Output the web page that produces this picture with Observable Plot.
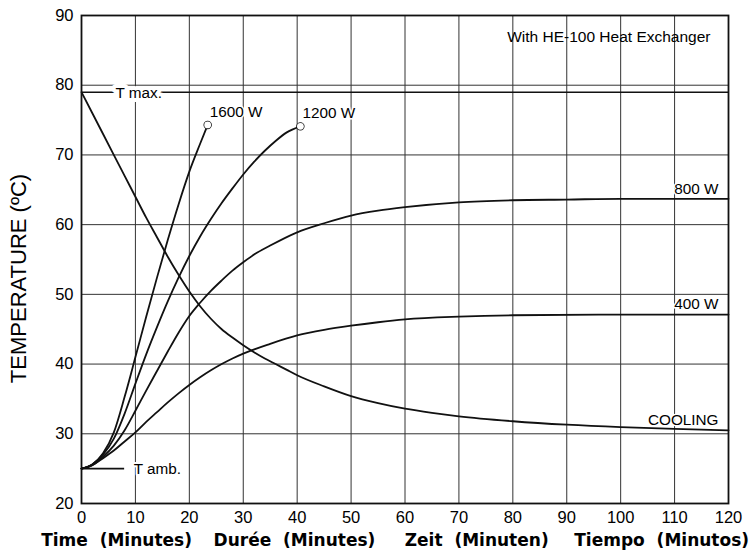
<!DOCTYPE html>
<html><head><meta charset="utf-8">
<script src="https://cdn.jsdelivr.net/npm/d3@7"></script>
<script src="https://cdn.jsdelivr.net/npm/@observablehq/plot@0.6"></script>
<style>
body{margin:0;background:#fff;}
#chart svg{display:block;paint-order:stroke;}
#chart svg text{paint-order:stroke;}
</style>
</head><body><div id="chart"></div>
<script>
// ---- data ----
const xTicks = [0,10,20,30,40,50,60,70,80,90,100,110,120];
const yTicks = [20,30,40,50,60,70,80,90];
const tMax = 79;
const tAmb = 25;

const t1600 = [0,2,4,6,8,10,12,14,16,18,20,22,23.4];
const v1600 = [25,25.6,27.2,30.2,35.3,41,46.8,52.4,57.8,62.9,67.6,71.6,74.3];

const t1200 = [0,2,4,6,8,10,12,14,16,18,20,22,24,26,28,30,32,34,36,38,40.6];
const v1200 = [25,25.6,27,29.3,32.9,37.2,41.4,45.3,49,52.4,55.5,58.3,60.8,63.1,65.2,67.2,69,70.6,72,73.2,74.1];

const t800 = [0,2,4,6,8,10,12,14,16,18,20,22,24,26,28,30,32,35,40,45,50,55,60,70,80,90,100,120];
const v800 = [25,25.5,26.7,28.3,30.5,33.3,36.2,39,41.8,44.5,46.9,48.8,50.5,52,53.4,54.6,55.7,57,58.9,60.2,61.3,62,62.5,63.2,63.5,63.6,63.7,63.7];

const t400 = [0,2,4,6,8,10,12,14,16,18,20,22,24,26,28,30,35,40,45,50,55,60,70,80,100,120];
const v400 = [25,25.5,26.5,27.6,28.9,30.2,31.7,33.1,34.5,35.8,37,38.1,39.1,40,40.8,41.5,42.9,44.1,44.9,45.5,46,46.4,46.8,47,47.1,47.1];

const tCool = [0,4,8,10,12,14,16,18,20,22,24,26,28,30,32,34,36,38,40,45,50,55,60,65,70,80,90,100,110,120];
const vCool = [79,73,67,64,61,58.2,55.4,52.8,50.4,48.3,46.5,45,43.8,42.7,41.7,40.8,40,39.2,38.4,36.8,35.4,34.4,33.6,33,32.5,31.8,31.3,30.95,30.7,30.5];

const seriesNames = ["1600 W","1200 W","800 W","400 W","COOLING"];
const seriesT = [t1600,t1200,t800,t400,tCool];
const seriesV = [v1600,v1200,v800,v400,vCool];

const axisLabels = ["Time\u00a0 (Minutes)","Durée\u00a0 (Minutes)","Zeit\u00a0 (Minuten)","Tiempo\u00a0 (Minutos)"];
const axisLabelX = [6.5,39.5,73.3,107.6];
const yLabel = "TEMPERATURE (ºC)";
const noteText = "With HE-100 Heat Exchanger";

// ---- build rows ----
const rows = seriesNames.flatMap((s,i)=>seriesT[i].map((t,j)=>({series:s,t,v:seriesV[i][j]})));
const lastPts = seriesNames.map((s,i)=>({series:s,t:seriesT[i][seriesT[i].length-1],v:seriesV[i][seriesV[i].length-1]}));
const endDots = lastPts.slice(0,2);
const rightLabels = lastPts.slice(2);

const halo = {stroke:"white", strokeWidth:3, fill:"black", paintOrder:"stroke"};
const lblFont = "Liberation Sans, Arial, sans-serif";

const chart = Plot.plot({
  width:749, height:557,
  marginLeft:81, marginRight:21, marginTop:15, marginBottom:54,
  style:{fontFamily:lblFont, background:"white"},
  x:{domain:[0,120]},
  y:{domain:[20,90]},
  marks:[
    Plot.gridX(xTicks,{stroke:"#333",strokeOpacity:1,strokeWidth:1}),
    Plot.gridY(yTicks,{stroke:"#333",strokeOpacity:1,strokeWidth:1}),
    Plot.ruleY([tMax],{x1:0,x2:120,stroke:"#111",strokeWidth:1.6}),
    Plot.ruleY([tAmb],{x1:0,x2:8,stroke:"#111",strokeWidth:1.6}),
    Plot.line(rows,{x:"t",y:"v",z:"series",curve:"monotone-x",stroke:"#111",strokeWidth:1.8}),
    Plot.dot(endDots,{x:"t",y:"v",r:3.4,stroke:"#111",strokeWidth:1.6,fill:"white"}),
    Plot.text(endDots,{x:"t",y:"v",text:"series",textAnchor:"start",dx:2,dy:-13,fontSize:15.3,...halo}),
    Plot.text(rightLabels,{x:"t",y:"v",text:"series",textAnchor:"end",dx:-10,dy:-10,fontSize:15.3,...halo}),
    Plot.text(["T max."],{x:()=>6.3,y:()=>tMax,text:d=>d,textAnchor:"start",dy:1,fontSize:15.3,...halo,strokeWidth:8}),
    Plot.text(["T amb."],{x:()=>9.7,y:()=>tAmb,text:d=>d,textAnchor:"start",fontSize:15.3,...halo,strokeWidth:4}),
    Plot.text([noteText],{frameAnchor:"top-right",text:d=>d,textAnchor:"end",dx:-18,dy:15,fontSize:15.5,fill:"black"}),
    Plot.frame({stroke:"#111",strokeWidth:1.8}),
    Plot.axisX(xTicks,{tickSize:0,tickPadding:8,fontSize:16.5,label:null}),
    Plot.axisY(yTicks,{tickSize:0,tickPadding:8,fontSize:16.5,label:null}),
    Plot.text([yLabel],{frameAnchor:"left",text:d=>d,textAnchor:"middle",rotate:-90,dx:-63,dy:19,fontSize:22,fill:"black"}),
    Plot.text(axisLabels,{x:(d,i)=>axisLabelX[i],text:d=>d,frameAnchor:"bottom",dy:42,fontSize:17,fontWeight:"bold",fontFamily:"DejaVu Sans",fill:"black"})
  ]
});
document.getElementById("chart").append(chart);
</script>
</body></html>
